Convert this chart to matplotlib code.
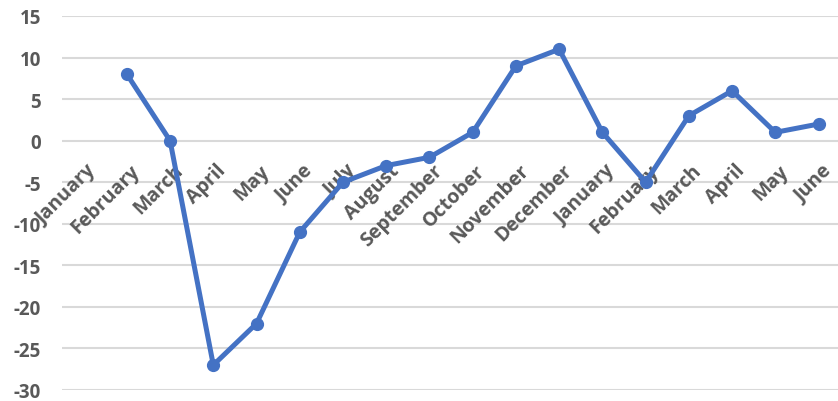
import numpy as np
import matplotlib.pyplot as plt

# categories and values (first January has no value)
months = ["January", "February", "March", "April", "May", "June", "July",
          "August", "September", "October", "November", "December",
          "January", "February", "March", "April", "May", "June"]
values = [np.nan, 8, 0, -27, -22, -11, -5, -3, -2, 1, 9, 11,
          1, -5, 3, 6, 1, 2]
yticks = [15, 10, 5, 0, -5, -10, -15, -20, -25, -30]

plt.rcParams['font.family'] = ['Open Sans', 'DejaVu Sans']

fig = plt.figure(figsize=(8.38, 4.02), dpi=100)
ax = fig.add_axes([62 / 838, 11 / 402, 1 - 62 / 838, 374 / 402])

x = np.arange(len(months))
ax.plot(x, values, color='#4472C4', lw=3.6, marker='o', ms=8.5,
        solid_capstyle='round', zorder=3)

ax.set_xlim(-0.5, len(months) - 0.55)
ax.set_ylim(-30, 15)
ax.set_yticks(yticks)
ax.set_yticklabels([str(t) for t in yticks], color='#595959',
                   fontsize=13.5, fontweight='bold')
ax.tick_params(axis='y', length=0, pad=15)
ax.set_xticks([])
ax.grid(axis='y', color='#D9D9D9', lw=1.5)
ax.set_axisbelow(True)
for s in ax.spines.values():
    s.set_visible(False)

# category labels sit on the zero line, rotated like in Excel
for i, m in enumerate(months):
    ax.annotate(m, xy=(i, 0), xytext=(2, -14), textcoords='offset points',
                rotation=45, rotation_mode='anchor', ha='right', va='top',
                fontsize=14, fontweight='bold', color='#595959', zorder=2)

fig.savefig('out.png', dpi=100)
